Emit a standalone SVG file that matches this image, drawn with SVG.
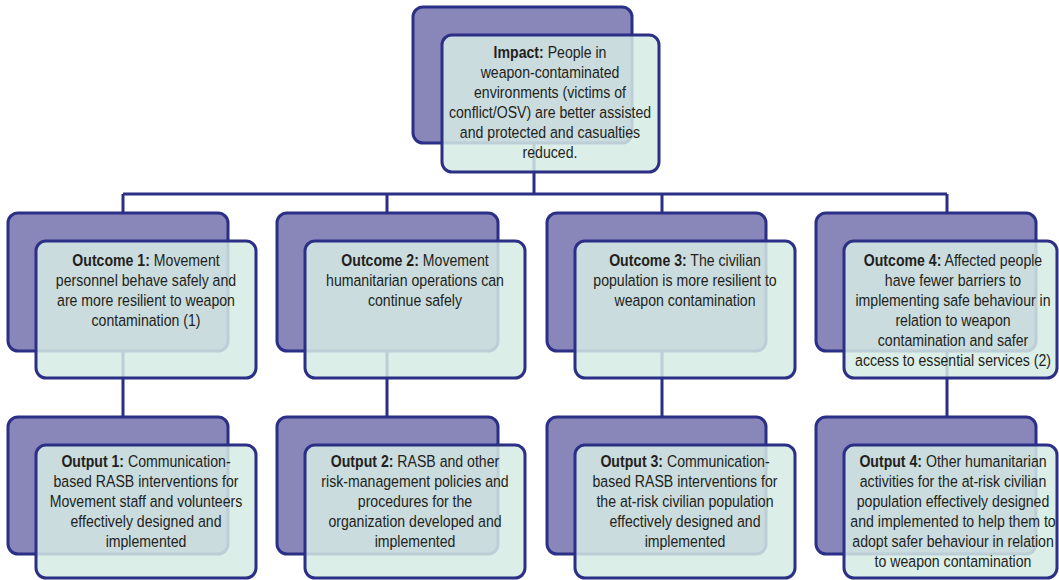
<svg xmlns="http://www.w3.org/2000/svg" width="1059" height="580" viewBox="0 0 1059 580">
<style>
.back{fill:#8987ba;stroke:#2b2f86;stroke-width:3}
.front{fill:#d6ebe4;fill-opacity:0.85;stroke:#2b2f86;stroke-width:3}
.conn{fill:none;stroke:#2b2f86;stroke-width:3}
text{font-family:"Liberation Sans",Arial,sans-serif;font-size:17px;fill:#231f20;text-anchor:middle}
.b{font-weight:bold}
</style>
<rect width="1059" height="580" fill="#ffffff"/>
<g id="connectors">
<path class="conn" d="M534 143V194M123 194H947M123 194V213M387 194V213M662 194V213M947 194V213M123 351V417M387 351V417M662 351V417M947 351V417"/>
</g>
<g id="impact">
<rect class="back" x="413" y="7" width="219" height="136" rx="10"/>
<rect class="front" x="442" y="35" width="217" height="137" rx="10"/>
<g transform="translate(550 0) scale(0.83 1)">
<text x="0" y="58"><tspan class="b">Impact:</tspan> People in</text>
<text x="0" y="78">weapon-contaminated</text>
<text x="0" y="98">environments (victims of</text>
<text x="0" y="118">conflict/OSV) are better assisted</text>
<text x="0" y="138">and protected and casualties</text>
<text x="0" y="158">reduced.</text>
</g>
</g>
<g id="outcome1">
<rect class="back" x="8" y="213" width="220" height="138" rx="10"/>
<rect class="front" x="36" y="241" width="220" height="137" rx="10"/>
<g transform="translate(146 0) scale(0.83 1)">
<text x="0" y="266"><tspan class="b">Outcome 1:</tspan> Movement</text>
<text x="0" y="286">personnel behave safely and</text>
<text x="0" y="306">are more resilient to weapon</text>
<text x="0" y="326">contamination (1)</text>
</g>
</g>
<g id="outcome2">
<rect class="back" x="277" y="213" width="221" height="138" rx="10"/>
<rect class="front" x="305" y="241" width="220" height="137" rx="10"/>
<g transform="translate(415 0) scale(0.83 1)">
<text x="0" y="266"><tspan class="b">Outcome 2:</tspan> Movement</text>
<text x="0" y="286">humanitarian operations can</text>
<text x="0" y="306">continue safely</text>
</g>
</g>
<g id="outcome3">
<rect class="back" x="547" y="213" width="219" height="138" rx="10"/>
<rect class="front" x="575" y="241" width="220" height="137" rx="10"/>
<g transform="translate(685 0) scale(0.83 1)">
<text x="0" y="266"><tspan class="b">Outcome 3:</tspan> The civilian</text>
<text x="0" y="286">population is more resilient to</text>
<text x="0" y="306">weapon contamination</text>
</g>
</g>
<g id="outcome4">
<rect class="back" x="816" y="213" width="220" height="138" rx="10"/>
<rect class="front" x="844" y="241" width="213" height="137" rx="10"/>
<g transform="translate(953 0) scale(0.83 1)">
<text x="0" y="266"><tspan class="b">Outcome 4:</tspan> Affected people</text>
<text x="0" y="286">have fewer barriers to</text>
<text x="0" y="306">implementing safe behaviour in</text>
<text x="0" y="326">relation to weapon</text>
<text x="0" y="346">contamination and safer</text>
<text x="0" y="366">access to essential services (2)</text>
</g>
</g>
<g id="output1">
<rect class="back" x="8" y="417" width="220" height="137" rx="10"/>
<rect class="front" x="36" y="445" width="220" height="133" rx="10"/>
<g transform="translate(146 0) scale(0.83 1)">
<text x="0" y="467"><tspan class="b">Output 1:</tspan> Communication-</text>
<text x="0" y="487">based RASB interventions for</text>
<text x="0" y="507">Movement staff and volunteers</text>
<text x="0" y="527">effectively designed and</text>
<text x="0" y="547">implemented</text>
</g>
</g>
<g id="output2">
<rect class="back" x="277" y="417" width="221" height="137" rx="10"/>
<rect class="front" x="305" y="445" width="220" height="133" rx="10"/>
<g transform="translate(415 0) scale(0.83 1)">
<text x="0" y="467"><tspan class="b">Output 2:</tspan> RASB and other</text>
<text x="0" y="487">risk-management policies and</text>
<text x="0" y="507">procedures for the</text>
<text x="0" y="527">organization developed and</text>
<text x="0" y="547">implemented</text>
</g>
</g>
<g id="output3">
<rect class="back" x="547" y="417" width="219" height="137" rx="10"/>
<rect class="front" x="575" y="445" width="220" height="133" rx="10"/>
<g transform="translate(685 0) scale(0.83 1)">
<text x="0" y="467"><tspan class="b">Output 3:</tspan> Communication-</text>
<text x="0" y="487">based RASB interventions for</text>
<text x="0" y="507">the at-risk civilian population</text>
<text x="0" y="527">effectively designed and</text>
<text x="0" y="547">implemented</text>
</g>
</g>
<g id="output4">
<rect class="back" x="816" y="417" width="220" height="137" rx="10"/>
<rect class="front" x="844" y="445" width="213" height="133" rx="10"/>
<g transform="translate(953 0) scale(0.83 1)">
<text x="0" y="467"><tspan class="b">Output 4:</tspan> Other humanitarian</text>
<text x="0" y="487">activities for the at-risk civilian</text>
<text x="0" y="507">population effectively designed</text>
<text x="0" y="527">and implemented to help them to</text>
<text x="0" y="547">adopt safer behaviour in relation</text>
<text x="0" y="567">to weapon contamination</text>
</g>
</g>
</svg>
